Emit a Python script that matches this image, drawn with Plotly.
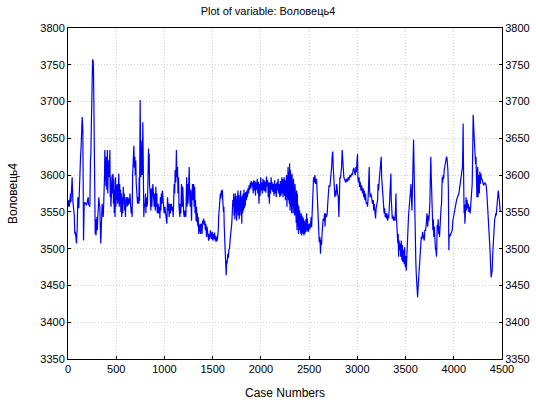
import plotly.graph_objects as go

# Case numbers and observed values of the variable "Воловець4"
case_numbers = [
    1, 9, 14, 18, 22, 26, 30, 36, 43, 50, 55, 60, 65, 71, 76, 80, 84, 88, 92, 95,
    102, 108, 112, 117, 120, 123, 130, 136, 142, 147, 150, 154, 157, 161, 168, 175, 181, 190, 199, 209,
    212, 216, 226, 233, 237, 241, 244, 248, 251, 255, 260, 264, 268, 271, 278, 282, 285, 290, 295, 300,
    305, 309, 315, 320, 325, 330, 335, 340, 347, 354, 360, 365, 370, 375, 379, 382, 385, 389, 393, 398,
    403, 408, 413, 417, 420, 423, 427, 431, 434, 438, 441, 445, 450, 454, 458, 462, 467, 471, 475, 480,
    484, 488, 493, 497, 502, 506, 510, 515, 520, 527, 531, 536, 540, 544, 548, 553, 557, 562, 568, 573,
    579, 583, 588, 592, 596, 600, 605, 610, 614, 620, 625, 631, 637, 642, 648, 655, 660, 665, 670, 676,
    680, 683, 688, 693, 698, 703, 707, 712, 716, 721, 728, 735,
    738, 742, 748, 752, 755, 759, 763, 766, 770, 776, 780, 783, 786, 792, 797, 801, 804, 807, 811, 818,
    824, 830, 835, 839, 842, 845, 852, 859, 863, 869, 873, 880, 884, 890, 894, 899, 905, 911, 916, 921,
    925, 935, 940, 949, 953, 958, 963, 968, 973, 978, 983, 990, 997, 1005, 1015, 1025, 1032, 1039, 1044, 1049,
    1056, 1062, 1066, 1072, 1077, 1084, 1091, 1096, 1101, 1106, 1111, 1118, 1124, 1129, 1136, 1140, 1146, 1151, 1156, 1160,
    1165, 1170, 1177, 1184, 1190, 1194, 1200, 1205, 1215, 1222, 1230, 1235, 1239, 1245, 1252, 1257, 1262, 1267, 1272, 1276,
    1281, 1286, 1291, 1297, 1303, 1308, 1313, 1318, 1322, 1328, 1332, 1336, 1342, 1346, 1350, 1356, 1360, 1364, 1370, 1374,
    1378, 1385, 1390, 1395, 1400, 1406, 1412, 1418, 1424, 1429, 1436, 1441, 1447, 1452, 1458, 1464, 1470, 1476, 1481,
    1484, 1490, 1496, 1502, 1508, 1514, 1519, 1525, 1531, 1536, 1542, 1548, 1553, 1558, 1562, 1571, 1575, 1580, 1585, 1590,
    1596, 1600, 1605, 1612, 1616, 1620, 1626, 1633, 1640, 1645, 1650, 1657, 1662, 1668, 1674, 1684, 1692, 1698, 1703, 1709,
    1714, 1718, 1722, 1726, 1730, 1735, 1740, 1744, 1748, 1753, 1757, 1762, 1766, 1771, 1775, 1780, 1784, 1789, 1793, 1798,
    1802, 1807, 1811, 1816, 1820, 1825, 1829, 1834, 1838, 1843, 1850, 1855, 1860, 1866, 1872, 1878, 1884, 1890, 1896, 1902,
    1908, 1914, 1920, 1926, 1932, 1938, 1944, 1950, 1956, 1962, 1968, 1974, 1980, 1986, 1992, 1998, 2004, 2010, 2016, 2022,
    2028, 2034, 2040, 2046, 2052, 2058, 2064, 2070, 2076, 2082, 2088, 2094, 2100, 2106, 2112, 2118, 2124, 2130, 2136, 2142,
    2148, 2154, 2160, 2166, 2172, 2178, 2184, 2190, 2196, 2202, 2208, 2214,
    2218, 2222, 2226, 2230, 2234, 2238, 2242, 2246, 2250, 2254, 2258, 2262, 2266, 2270, 2274, 2278, 2282, 2286, 2290, 2294,
    2298, 2302, 2306, 2310, 2314, 2318, 2322, 2326, 2330, 2334, 2338, 2342, 2346, 2350, 2354, 2358, 2362, 2366, 2370, 2374,
    2378, 2382, 2386, 2390, 2394, 2398, 2402, 2406, 2410, 2414, 2418, 2422, 2426, 2430, 2434, 2438, 2442, 2446, 2450, 2454,
    2458, 2462, 2466, 2470, 2474, 2478, 2482, 2486, 2490, 2494, 2498, 2502, 2506, 2510, 2514, 2518, 2522, 2526, 2530,
    2536, 2546, 2553, 2560, 2567, 2577, 2582, 2587, 2594, 2600, 2605, 2612, 2618, 2624, 2629, 2634, 2639, 2646, 2653, 2660,
    2665, 2670, 2675, 2680, 2688, 2693, 2698, 2706, 2715, 2720, 2726, 2733, 2739, 2745, 2750, 2755, 2760, 2767, 2774, 2779,
    2784, 2790, 2795, 2802, 2809, 2813, 2819, 2824, 2829, 2836, 2843, 2848, 2854, 2860, 2866, 2871, 2880, 2888, 2895, 2905,
    2912, 2923, 2930, 2940, 2948, 2957,
    2963, 2970, 2978, 2985, 2990, 2996, 3002, 3006, 3012, 3018, 3023, 3030, 3037, 3045, 3054, 3060, 3066, 3072, 3078, 3085,
    3092, 3099, 3106, 3112, 3117, 3123, 3127, 3133, 3141, 3147, 3152, 3158, 3165, 3170, 3175, 3182, 3189, 3195, 3203, 3210,
    3215, 3220, 3228, 3233, 3238, 3243, 3248, 3252, 3258, 3264, 3272, 3278, 3283, 3289, 3295, 3300, 3307, 3313, 3318, 3324,
    3330, 3336, 3341, 3348, 3351, 3355, 3362, 3369, 3375, 3383, 3390, 3396, 3400, 3404, 3410, 3415, 3420, 3424, 3428, 3433,
    3438, 3445, 3450, 3456, 3462, 3467, 3472, 3480, 3485, 3490, 3497, 3502, 3507, 3512, 3516, 3521, 3526, 3531, 3537, 3542,
    3549, 3556, 3561, 3566, 3571, 3576, 3580, 3583, 3587, 3590, 3595, 3601, 3606, 3611, 3616, 3621, 3625, 3629, 3632, 3637,
    3642, 3647, 3652, 3658, 3663, 3670, 3677, 3685, 3694, 3700, 3708, 3715, 3722,
    3730, 3736, 3742, 3748, 3752, 3756, 3759, 3762, 3766, 3769, 3773, 3776, 3783, 3788, 3793, 3798, 3804, 3810, 3815, 3821,
    3824, 3828, 3833, 3838, 3843, 3848, 3852, 3857, 3863, 3868, 3873, 3877, 3880, 3885, 3890, 3895, 3901, 3907, 3914, 3920,
    3925, 3930, 3935, 3939, 3944, 3949, 3952, 3956, 3963, 3970, 3977, 3984, 3990, 3997, 4004, 4011, 4018, 4025, 4032, 4039,
    4046, 4053, 4060, 4067, 4074, 4080, 4085, 4090, 4094, 4097, 4100, 4103, 4107, 4111, 4115, 4119, 4122, 4128, 4133, 4138,
    4143, 4150, 4156, 4163, 4170, 4177, 4184, 4191, 4195, 4198, 4201, 4204, 4208, 4212, 4215, 4220, 4226, 4230, 4236, 4240,
    4244, 4248, 4252, 4256, 4260, 4265, 4270, 4275, 4281, 4286, 4291, 4295, 4302, 4309, 4316, 4322, 4330, 4336, 4343, 4350,
    4355, 4360, 4366, 4371, 4376, 4381, 4385, 4388, 4393, 4398, 4404, 4409, 4414, 4419, 4424, 4430, 4435, 4440, 4445, 4450,
    4455, 4461, 4465, 4471, 4476, 4481,
]

volovets4 = [
    3557, 3566, 3557, 3572, 3559, 3575, 3563, 3585, 3597, 3566, 3557, 3548, 3545, 3520, 3523, 3518, 3510, 3507, 3520, 3525,
    3570, 3563, 3555, 3575, 3588, 3616, 3625, 3638, 3660, 3679, 3672, 3660, 3620, 3511, 3561, 3563, 3561, 3559, 3563, 3570,
    3561, 3559, 3557, 3620, 3629, 3660, 3702, 3730, 3750, 3757, 3756, 3745, 3700, 3652, 3525, 3520, 3540, 3518, 3530, 3543,
    3525, 3543, 3555, 3570, 3560, 3557, 3530, 3507, 3535, 3561, 3550, 3543, 3560, 3575, 3600, 3634, 3590, 3630, 3585, 3625,
    3580, 3634, 3575, 3620, 3597, 3610, 3597, 3620, 3634, 3570, 3597, 3557, 3597, 3570, 3600, 3575, 3602, 3561, 3595, 3548,
    3580, 3543, 3597, 3557, 3586, 3566, 3588, 3561, 3570, 3602, 3557, 3588, 3561, 3580, 3550, 3575, 3543, 3570, 3548, 3584,
    3561, 3575, 3552, 3570, 3543, 3565, 3563, 3570, 3557, 3570, 3559, 3568, 3561, 3575, 3563, 3548, 3557, 3543, 3600, 3638,
    3620, 3640, 3610, 3625, 3600, 3620, 3590, 3570, 3584, 3561, 3570, 3561,
    3597, 3565, 3702, 3640, 3597, 3640, 3600, 3647, 3600, 3672, 3600, 3552, 3543, 3561, 3557, 3566, 3575, 3548, 3570, 3557,
    3561, 3600, 3636, 3600, 3629, 3588, 3575, 3552, 3582, 3557, 3570, 3588, 3575, 3570, 3557, 3575, 3552, 3584, 3557, 3575,
    3548, 3561, 3548, 3557, 3541, 3570, 3552, 3575, 3561, 3579, 3566, 3561, 3548, 3557, 3543, 3534, 3570, 3552, 3561, 3543,
    3561, 3548, 3557, 3561, 3552, 3557, 3543, 3570, 3588, 3575, 3607, 3590, 3634, 3597, 3611, 3575, 3597, 3557, 3552, 3543,
    3561, 3548, 3588, 3557, 3584, 3557, 3548, 3543, 3552, 3543, 3597, 3557, 3588, 3561, 3600, 3611, 3570, 3557, 3580, 3541,
    3538, 3575, 3588, 3566, 3588, 3557, 3584, 3548, 3566, 3538, 3557, 3536, 3548, 3530, 3543, 3520, 3532, 3523, 3534, 3520,
    3530, 3534, 3520, 3538, 3534, 3541, 3532, 3538, 3525, 3534, 3516, 3530, 3518, 3523, 3511, 3520, 3513, 3525, 3516,
    3520, 3513, 3523, 3511, 3520, 3513, 3522, 3511, 3518, 3509, 3516, 3511, 3518, 3525, 3543, 3566, 3557, 3575, 3568, 3579,
    3572, 3580, 3566, 3550, 3557, 3530, 3500, 3489, 3464, 3484, 3480, 3493, 3487, 3498, 3500, 3516, 3525, 3534, 3548, 3566,
    3557, 3575, 3545, 3570, 3540, 3575, 3548, 3572, 3538, 3570, 3550, 3579, 3545, 3573, 3540, 3570, 3552, 3579, 3545, 3570,
    3534, 3572, 3548, 3575, 3552, 3580, 3555, 3575, 3558, 3577, 3566, 3579, 3570, 3582, 3575, 3586, 3580, 3590, 3582, 3592,
    3585, 3590, 3575, 3593, 3579, 3592, 3572, 3590, 3580, 3595, 3575, 3591, 3561, 3588, 3572, 3597, 3579, 3590, 3575, 3595,
    3579, 3593, 3578, 3591, 3576, 3598, 3585, 3593, 3570, 3590, 3561, 3590, 3575, 3597, 3580, 3590, 3577, 3588, 3572, 3593,
    3575, 3588, 3570, 3590, 3579, 3595, 3575, 3588, 3570, 3592, 3572, 3588,
    3597, 3575, 3595, 3570, 3592, 3580, 3597, 3572, 3593, 3566, 3590, 3575, 3600, 3557, 3595, 3570, 3611, 3566, 3605, 3561,
    3616, 3552, 3607, 3557, 3600, 3548, 3602, 3555, 3597, 3548, 3595, 3552, 3590, 3545, 3588, 3543, 3584, 3535, 3579, 3525,
    3575, 3530, 3560, 3520, 3557, 3525, 3552, 3523, 3550, 3520, 3548, 3518, 3545, 3522, 3543, 3520, 3541, 3518, 3538, 3520,
    3536, 3522, 3540, 3525, 3548, 3523, 3541, 3525, 3534, 3523, 3532, 3525, 3534, 3527, 3536, 3530, 3543, 3529, 3548,
    3575, 3597, 3590, 3600, 3588, 3595, 3580, 3566, 3534, 3520, 3509, 3516, 3493, 3512, 3505, 3520, 3530, 3541, 3538, 3548,
    3530, 3548, 3545, 3543, 3548, 3561, 3575, 3586, 3584, 3590, 3593, 3610, 3625, 3632, 3611, 3600, 3575, 3570, 3579, 3572,
    3588, 3584, 3575, 3570, 3543, 3590, 3597, 3595, 3602, 3610, 3634, 3615, 3605, 3597, 3595, 3593, 3590, 3595, 3591, 3597,
    3593, 3600, 3597, 3602, 3600, 3607,
    3610, 3605, 3600, 3611, 3604, 3618, 3629, 3595, 3590, 3597, 3584, 3591, 3579, 3586, 3575, 3582, 3570, 3579, 3566, 3575,
    3561, 3563, 3557, 3570, 3590, 3611, 3579, 3570, 3575, 3566, 3570, 3561, 3566, 3552, 3561, 3548, 3541, 3555, 3561, 3566,
    3588, 3579, 3595, 3602, 3607, 3611, 3625, 3597, 3586, 3570, 3552, 3548, 3555, 3543, 3548, 3541, 3548, 3538, 3545, 3541,
    3552, 3575, 3590, 3602, 3570, 3548, 3541, 3545, 3538, 3543, 3538, 3555, 3575, 3545, 3534, 3525, 3507, 3520, 3489, 3511,
    3498, 3507, 3489, 3511, 3484, 3505, 3482, 3498, 3479, 3502, 3475, 3490, 3470, 3490, 3505, 3520, 3541, 3545, 3555, 3561,
    3575, 3588, 3570, 3552, 3575, 3597, 3620, 3648, 3620, 3588, 3540, 3500, 3484, 3466, 3458, 3443, 3434, 3445, 3452, 3458,
    3461, 3470, 3489, 3500, 3516, 3513, 3523, 3516, 3511, 3525, 3525, 3534, 3548,
    3530, 3545, 3538, 3552, 3561, 3590, 3611, 3625, 3600, 3588, 3560, 3543, 3525, 3540, 3516, 3530, 3507, 3500, 3498, 3489,
    3505, 3532, 3525, 3540, 3520, 3530, 3516, 3534, 3541, 3555, 3561, 3580, 3597, 3590, 3600, 3595, 3607, 3611, 3614, 3618,
    3625, 3622, 3614, 3607, 3580, 3498, 3520, 3516, 3518, 3520, 3523, 3525, 3538, 3543, 3552, 3557, 3561, 3566, 3568, 3570,
    3573, 3575, 3582, 3588, 3593, 3597, 3607, 3611, 3640, 3670, 3620, 3570, 3548, 3560, 3534, 3550, 3561, 3570, 3552, 3566,
    3555, 3561, 3550, 3557, 3548, 3561, 3575, 3588, 3620, 3643, 3682, 3675, 3661, 3650, 3655, 3630, 3615, 3625, 3600, 3570,
    3600, 3611, 3570, 3600, 3593, 3575, 3605, 3588, 3602, 3595, 3595, 3593, 3588, 3586, 3588, 3590, 3588, 3586, 3575, 3561,
    3552, 3538, 3525, 3511, 3498, 3479, 3466, 3461, 3466, 3470, 3493, 3507, 3520, 3534, 3540, 3543, 3548, 3545, 3555, 3561,
    3565, 3579, 3575, 3570, 3561, 3550,
]

x_ticks = [0, 500, 1000, 1500, 2000, 2500, 3000, 3500, 4000, 4500]
y_ticks = [3350, 3400, 3450, 3500, 3550, 3600, 3650, 3700, 3750, 3800]

FONT = "Liberation Sans, Arial, sans-serif"
GRID = dict(showgrid=True, gridcolor="#d0d0d0", griddash="1px,2px", gridwidth=1)

fig = go.Figure()
fig.add_trace(go.Scatter(
    x=case_numbers, y=volovets4, mode="lines",
    line=dict(color="#0000ff", width=1.2),
    showlegend=False, hoverinfo="x+y",
))
# Same series on the right-hand axis (transparent) so its labels are drawn
fig.add_trace(go.Scatter(
    x=case_numbers, y=volovets4, mode="lines", yaxis="y2",
    line=dict(color="rgba(0,0,0,0)", width=1),
    showlegend=False, hoverinfo="skip",
))

axis_common = dict(
    showline=True, linecolor="black", linewidth=1,
    ticks="inside", ticklen=3, tickcolor="black",
    tickfont=dict(family=FONT, size=11, color="black"),
    zeroline=False, automargin=False,
)

fig.update_layout(
    width=536, height=403,
    paper_bgcolor="white", plot_bgcolor="white",
    margin=dict(l=68, r=34, t=28, b=44, autoexpand=False),
    title=dict(text="Plot of variable: Воловець4", x=0.5, xanchor="center",
               y=1 - 11 / 403, yanchor="middle",
               font=dict(family=FONT, size=11, color="black")),
    xaxis=dict(range=[0, 4500], tickvals=x_ticks, mirror=True,
               title=dict(text="Case Numbers", standoff=14,
                          font=dict(family=FONT, size=12, color="black")),
               **GRID, **axis_common),
    yaxis=dict(range=[3350, 3800], tickvals=y_ticks, mirror=True,
               title=dict(text="Воловець4", standoff=20,
                          font=dict(family=FONT, size=12, color="black")),
               **GRID, **axis_common),
    yaxis2=dict(range=[3350, 3800], tickvals=y_ticks, overlaying="y", side="right",
                showgrid=False, **axis_common),
)

fig.write_html("out.html")
